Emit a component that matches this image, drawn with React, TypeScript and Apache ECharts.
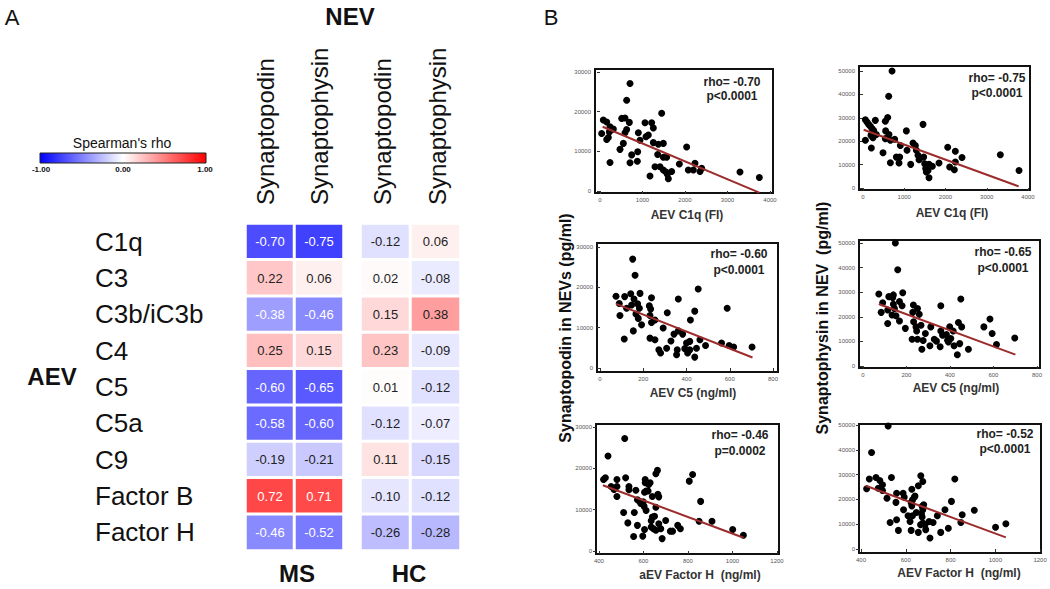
import React, { useEffect, useRef } from "react";
import * as echarts from "echarts";

// ---------- Panel A: heatmap data ----------
const complementRows = ["C1q", "C3", "C3b/iC3b", "C4", "C5", "C5a", "C9", "Factor B", "Factor H"];
const markerCols = ["Synaptopodin", "Synaptophysin"];
const msSynaptopodin = [-0.70, 0.22, -0.38, 0.25, -0.60, -0.58, -0.19, 0.72, -0.46];
const msSynaptophysin = [-0.75, 0.06, -0.46, 0.15, -0.65, -0.60, -0.21, 0.71, -0.52];
const hcSynaptopodin = [-0.12, 0.02, 0.15, 0.23, 0.01, -0.12, 0.11, -0.10, -0.26];
const hcSynaptophysin = [0.06, -0.08, 0.38, -0.09, -0.12, -0.07, -0.15, -0.12, -0.28];

// ---------- Panel B: scatter data [x, y] ----------
const c1qSynpo = [[706,27100],[627,22900],[1451,19600],[78,17900],[157,17400],[510,18300],[588,18400],[690,17300],[1216,17200],[1059,17200],[1255,15900],[235,16200],[220,14900],[314,15600],[39,14500],[627,15500],[588,14700],[902,14700],[941,12800],[1082,13700],[1137,14100],[157,13000],[196,13500],[549,12000],[1255,12200],[1490,12000],[1373,11800],[471,10500],[886,9900],[745,9100],[878,7500],[706,7100],[235,7200],[1357,9200],[1490,8500],[1569,8500],[1412,6100],[1294,6100],[1490,5300],[1553,4800],[1584,4200],[1608,3100],[1686,4900],[1176,3800],[1867,6800],[2039,11100],[2078,5300],[2196,5300],[2235,7000],[2353,4900],[2392,5700],[3294,4800],[3749,3400]];
const c1qSynpoFit = [[63,16200],[3749,-400]];

const c1qSynphys = [[704,50000],[622,39200],[598,30100],[541,28500],[299,28900],[57,29200],[97,28200],[137,27200],[178,26400],[218,25400],[259,24600],[57,20400],[202,17100],[194,22500],[242,21500],[323,22900],[549,24400],[630,22900],[663,20400],[768,20800],[541,21100],[1051,24400],[1455,27200],[905,18200],[1067,16100],[1212,19200],[1269,18200],[1293,16100],[485,15100],[663,10800],[808,13200],[889,13200],[873,10700],[1156,10100],[1333,14000],[1358,12100],[1471,13200],[1495,10400],[1519,8300],[1535,6800],[1600,10100],[1576,7500],[1600,4400],[1681,9300],[1842,10700],[2053,17400],[2101,9000],[2238,15700],[2214,7800],[2238,11100],[2400,13000],[3329,14200],[3782,7500]];
const c1qSynphysFit = [[16,24900],[3774,700]];

const c5Synpo = [[151,27000],[162,23000],[74,17800],[114,17700],[142,18400],[185,18500],[157,17100],[174,15900],[89,16000],[146,15600],[228,15400],[238,17400],[234,14600],[123,14800],[182,14800],[92,13000],[166,13400],[231,13000],[254,11900],[238,11300],[192,10700],[177,12300],[112,7200],[154,9200],[231,7400],[254,7000],[272,4500],[280,3700],[292,9900],[311,13700],[328,6700],[308,4900],[342,8400],[362,17100],[362,9200],[357,4500],[354,3300],[382,8400],[392,4800],[400,6200],[405,3700],[415,6600],[415,4500],[418,11900],[438,14100],[454,19600],[438,2700],[446,4900],[462,7000],[488,5600],[588,14800],[562,6200],[597,5600],[618,5200],[703,5200]];
const c5SynpoFit = [[74,15900],[705,2600]];

const c5Synphys = [[149,50000],[160,39100],[73,29300],[183,29800],[140,28900],[119,28200],[137,27800],[91,25700],[168,26200],[180,24500],[140,25100],[232,24800],[251,23400],[84,21800],[114,22800],[145,23400],[134,20700],[152,20400],[168,18300],[229,21800],[259,21000],[114,17300],[195,15300],[233,18000],[244,15900],[247,14200],[267,16600],[226,10900],[251,10900],[287,13200],[271,6800],[277,10400],[308,8200],[312,15900],[328,10900],[338,10100],[358,24500],[358,14200],[355,7800],[366,12500],[384,12800],[389,10500],[393,9800],[399,15900],[404,11200],[415,14200],[419,8200],[439,17700],[434,4600],[450,27200],[454,15900],[445,9100],[485,6800],[556,15900],[584,19100],[594,13200],[614,8700],[698,11400]];
const c5SynphysFit = [[73,25200],[701,4600]];

const fhSynpo = [[516,27200],[441,23000],[421,17300],[429,17700],[481,17300],[520,17700],[455,15600],[468,14900],[481,15600],[481,13200],[535,15600],[535,14800],[566,14700],[608,17300],[608,16500],[624,16100],[630,16500],[612,14500],[605,14200],[621,14500],[656,18700],[663,19500],[640,13200],[665,13700],[669,13100],[573,12400],[581,12100],[599,11900],[588,11500],[603,10800],[612,9800],[656,10600],[511,9300],[559,9300],[530,6800],[640,8200],[650,8400],[573,6200],[635,7300],[669,6600],[635,5800],[645,5400],[656,5000],[605,5200],[678,5400],[556,3500],[597,3600],[684,3000],[700,7400],[721,4800],[731,4800],[754,6200],[766,5400],[806,16900],[821,18500],[857,12000],[850,7200],[908,7200],[1001,5200],[1049,3800]];
const fhSynpoFit = [[418,15900],[1050,3200]];

const fhSynphys = [[521,49600],[447,38900],[425,24300],[437,28200],[467,28800],[484,27600],[496,25900],[477,24500],[496,23600],[516,20500],[536,28800],[559,22500],[588,22500],[556,18800],[593,20900],[590,15800],[530,10700],[559,11800],[567,7500],[610,13400],[619,11100],[624,7500],[627,24100],[630,19800],[638,20900],[641,21400],[624,18800],[627,17400],[630,13400],[647,14700],[656,25500],[656,6700],[667,29500],[676,27200],[673,17200],[680,17800],[676,15800],[670,14200],[673,12900],[676,10500],[666,9800],[686,9800],[689,7800],[704,11100],[708,4400],[722,10700],[741,13400],[756,6700],[775,15800],[790,8400],[804,19200],[819,28200],[846,10700],[852,13800],[906,15600],[1001,8800],[1047,10200]];
const fhSynphysFit = [[421,25500],[1047,4700]];

// tick values
const c1qTicks = [0, 1000, 2000, 3000, 4000];
const c5Ticks = [0, 200, 400, 600, 800];
const fhTicks = [400, 600, 800, 1000, 1200];
const synpoTicks = [0, 10000, 20000, 30000];
const synphysTicks = [0, 10000, 20000, 30000, 40000, 50000];

const FONT = "'Liberation Sans', Arial, sans-serif";

const plots = [
  { data: c1qSynpo, fit: c1qSynpoFit, frame: [595, 69, 178, 124], x: [-118, 4071], y: [-504, 30756], xt: c1qTicks, yt: synpoTicks, title: "AEV C1q (FI)", tPos: [687, 215], rho: "rho= -0.70", p: "p<0.0001", sPos: [732, 82, 96] },
  { data: c1qSynphys, fit: c1qSynphysFit, frame: [859, 66, 171, 124], x: [-97, 4048], y: [-855, 52137], xt: c1qTicks, yt: synphysTicks, title: "AEV C1q (FI)", tPos: [952, 213], rho: "rho= -0.75", p: "p<0.0001", sPos: [997, 78, 93] },
  { data: c5Synpo, fit: c5SynpoFit, frame: [597, 243, 181, 129], x: [-14, 823], y: [-992, 30992], xt: c5Ticks, yt: synpoTicks, title: "AEV C5 (ng/ml)", tPos: [693, 393], rho: "rho= -0.60", p: "p<0.0001", sPos: [739, 254, 270] },
  { data: c5Synphys, fit: c5SynphysFit, frame: [859, 240, 181, 128], x: [-18, 814], y: [-813, 51220], xt: c5Ticks, yt: synphysTicks, title: "AEV C5 (ng/ml)", tPos: [956, 388], rho: "rho= -0.65", p: "p<0.0001", sPos: [1003, 252, 268] },
  { data: fhSynpo, fit: fhSynpoFit, frame: [596, 424, 183, 130], x: [387, 1209], y: [-726, 30726], xt: fhTicks, yt: synpoTicks, title: "aEV Factor H  (ng/ml)", tPos: [700, 575], rho: "rho= -0.46", p: "p=0.0002", sPos: [740, 435, 451] },
  { data: fhSynphys, fit: fhSynphysFit, frame: [859, 424, 182, 129], x: [391, 1204], y: [-1613, 50403], xt: fhTicks, yt: synphysTicks, title: "AEV Factor H  (ng/ml)", tPos: [959, 573], rho: "rho= -0.52", p: "p<0.0001", sPos: [1005, 434, 449] },
];

function cellData(col1: number[], col2: number[]) {
  const out: any[] = [];
  [col1, col2].forEach((col, ci) => {
    col.forEach((v, ri) => {
      const light = v <= -0.35 || v >= 0.5;
      out.push({ value: [ci, ri, v], label: { color: light ? "#ffffff" : "#222222" } });
    });
  });
  return out;
}

function buildOption() {
  const grids: any[] = [];
  const xAxes: any[] = [];
  const yAxes: any[] = [];
  const series: any[] = [];
  const graphic: any[] = [];

  const t = (text: string, x: number, y: number, font: string, extra: any = {}, align = "center") => ({
    type: "text", x, y, ...extra,
    style: { text, align, verticalAlign: "middle", font, fill: "#111" },
  });

  // heatmap grids
  const hmGrids = [
    { left: 245.5, width: 98, a: msSynaptopodin, b: msSynaptophysin, showRows: true, headX: [265, 319] },
    { left: 360.5, width: 100, a: hcSynaptopodin, b: hcSynaptophysin, showRows: false, headX: [382, 437] },
  ];
  hmGrids.forEach((g, i) => {
    grids.push({ left: g.left, top: 223.5, width: g.width, height: 327, show: false });
    xAxes.push({
      gridIndex: i, type: "category", position: "top", data: markerCols,
      axisLine: { show: false }, axisTick: { show: false }, splitLine: { show: false },
      axisLabel: { show: false },
    });
    yAxes.push({
      gridIndex: i, type: "category", data: complementRows, inverse: true,
      axisLine: { show: false }, axisTick: { show: false }, splitLine: { show: false },
      axisLabel: g.showRows
        ? { show: true, fontSize: 26, color: "#111", align: "left", margin: 150.5, fontFamily: FONT, interval: 0 }
        : { show: false },
    });
    series.push({
      type: "heatmap", xAxisIndex: i, yAxisIndex: i,
      data: cellData(g.a, g.b),
      itemStyle: { borderColor: "#ffffff", borderWidth: 3 },
      label: { show: true, fontSize: 13, fontFamily: FONT, formatter: (p: any) => p.value[2].toFixed(2) },
    });
    markerCols.forEach((name, ci) => {
      graphic.push(t(name, g.headX[ci], 205, `24px ${FONT}`, { rotation: Math.PI / 2 }, "left"));
    });
  });

  // scatter grids
  const plain = (v: number) => String(v);
  plots.forEach((pl, k) => {
    const gi = k + 2;
    grids.push({
      left: pl.frame[0], top: pl.frame[1], width: pl.frame[2], height: pl.frame[3],
      show: true, borderColor: "#111", borderWidth: 2, backgroundColor: "transparent",
    });
    xAxes.push({
      gridIndex: gi, type: "value", min: pl.x[0], max: pl.x[1],
      axisLine: { show: false }, splitLine: { show: false },
      axisTick: { show: true, length: 3, customValues: pl.xt, lineStyle: { color: "#333" } },
      axisLabel: { show: true, customValues: pl.xt, formatter: plain, fontSize: 6, color: "#555", margin: 4, fontFamily: FONT },
    });
    yAxes.push({
      gridIndex: gi, type: "value", min: pl.y[0], max: pl.y[1],
      axisLine: { show: false }, splitLine: { show: false },
      axisTick: { show: true, length: 3, customValues: pl.yt, lineStyle: { color: "#333" } },
      axisLabel: { show: true, customValues: pl.yt, formatter: plain, fontSize: 6, color: "#555", margin: 4, fontFamily: FONT },
    });
    series.push({
      type: "scatter", xAxisIndex: gi, yAxisIndex: gi, data: pl.data,
      symbolSize: 7, itemStyle: { color: "#000000", opacity: 1 }, z: 2,
    });
    series.push({
      type: "line", xAxisIndex: gi, yAxisIndex: gi, data: pl.fit,
      symbol: "none", lineStyle: { color: "#9c2c2c", width: 2 }, z: 3,
    });
    graphic.push({ type: "text", x: pl.tPos[0], y: pl.tPos[1], style: { text: pl.title, align: "center", verticalAlign: "middle", font: `bold 12px ${FONT}`, fill: "#333" } });
    graphic.push({ type: "text", x: pl.sPos[0], y: pl.sPos[1], style: { text: pl.rho, align: "center", verticalAlign: "middle", font: `bold 12px ${FONT}`, fill: "#222" } });
    graphic.push({ type: "text", x: pl.sPos[0], y: pl.sPos[2], style: { text: pl.p, align: "center", verticalAlign: "middle", font: `bold 12px ${FONT}`, fill: "#222" } });
  });

  graphic.push(t("A", 12, 17, `22px ${FONT}`));
  graphic.push(t("B", 551, 17, `22px ${FONT}`));
  graphic.push(t("NEV", 350, 16, `bold 24px ${FONT}`));
  graphic.push(t("AEV", 52, 376, `bold 24px ${FONT}`));
  graphic.push(t("MS", 297, 573, `bold 24px ${FONT}`));
  graphic.push(t("HC", 409, 573, `bold 24px ${FONT}`));
  graphic.push(t("Spearman's rho", 122, 143, `14px ${FONT}`));
  graphic.push({
    type: "rect", shape: { x: 40, y: 153, width: 166, height: 10 },
    style: {
      fill: new echarts.graphic.LinearGradient(0, 0, 1, 0, [
        { offset: 0, color: "#0000ff" }, { offset: 0.5, color: "#ffffff" }, { offset: 1, color: "#ff0000" },
      ]),
      stroke: "#222", lineWidth: 1,
    },
  });
  graphic.push(t("-1.00", 41, 169, `bold 8px ${FONT}`));
  graphic.push(t("0.00", 123, 169, `bold 8px ${FONT}`));
  graphic.push(t("1.00", 205, 169, `bold 8px ${FONT}`));
  graphic.push(t("Synaptopodin in NEVs (pg/ml)", 565, 328, `bold 16px ${FONT}`, { rotation: Math.PI / 2 }));
  graphic.push(t("Synaptophysin in NEV  (pg/ml)", 822, 318, `bold 16px ${FONT}`, { rotation: Math.PI / 2 }));

  return {
    animation: false,
    backgroundColor: "#ffffff",
    textStyle: { fontFamily: FONT },
    grid: grids,
    xAxis: xAxes,
    yAxis: yAxes,
    visualMap: {
      type: "continuous", min: -1, max: 1, show: false, seriesIndex: [0, 1],
      inRange: { color: ["#0000ff", "#ffffff", "#ff0000"] },
    },
    series,
    graphic,
  };
}

export default function App() {
  const ref = useRef<HTMLDivElement>(null);
  useEffect(() => {
    if (!ref.current) return;
    const chart = echarts.init(ref.current, null, { renderer: "svg" });
    chart.setOption(buildOption());
    return () => chart.dispose();
  }, []);
  return (
    <div
      ref={ref}
      style={{ position: "fixed", left: 0, top: 0, width: 1050, height: 589, background: "#fff" }}
    />
  );
}
